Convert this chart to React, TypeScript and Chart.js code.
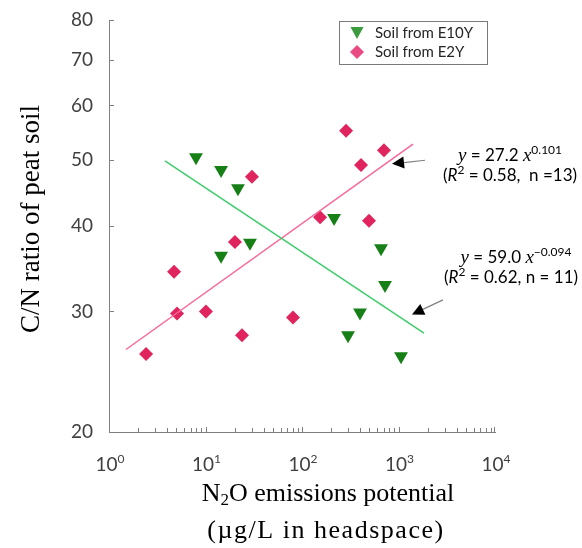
import React, { useEffect, useRef } from 'react';
import { Chart, registerables } from 'chart.js';

Chart.register(...registerables);

// ---- Data ----
const e10yX = [7.97, 14.5, 21.7, 28.9, 14.5, 215, 659, 725, 399, 300, 1062];
const e10yY = [50.4, 48.3, 45.4, 37.8, 36.2, 41.1, 37.1, 32.8, 29.9, 27.7, 25.8];
const e2yX = [2.42, 4.72, 5.07, 10.1, 20.2, 23.9, 30.3, 80.7, 154, 286, 409, 495, 707];
const e2yY = [26.0, 34.3, 29.8, 30.0, 37.9, 27.7, 47.2, 29.4, 41.2, 55.1, 49.1, 40.7, 51.6];
const fitE2YX = [1.5, 1413];
const fitE2YY = [26.4, 52.7];
const fitE10YX = [3.8, 1837];
const fitE10YY = [49.8, 27.9];
const xTicks = [1, 10, 100, 1000, 10000];
const xTickExp = ['0', '1', '2', '3', '4'];
const yTicks = [20, 30, 40, 50, 60, 70, 80];
const seriesNames = ['Soil from E10Y', 'Soil from E2Y'];
// arrows in data coordinates: [tailX, tailY, tipX, tipY]
const arrowE2Y = [1883, 49.9, 857, 49.3];
const arrowE10Y = [2891, 31.2, 1380, 29.7];

const SANS = 'Lato, "Open Sans", sans-serif';
const SERIF = '"Liberation Serif", "DejaVu Serif", serif';

const toPts = (xs: number[], ys: number[]) => xs.map((v, i) => ({ x: v, y: ys[i] }));

type Part = { t: string; font: string; dy?: number };
function drawRich(ctx: CanvasRenderingContext2D, parts: Part[], cx: number, baseline: number, color = '#000') {
  let total = 0;
  const widths = parts.map((p) => {
    ctx.font = p.font;
    const w = ctx.measureText(p.t).width;
    total += w;
    return w;
  });
  let xPos = cx - total / 2;
  ctx.fillStyle = color;
  ctx.textAlign = 'left';
  ctx.textBaseline = 'alphabetic';
  parts.forEach((p, i) => {
    ctx.font = p.font;
    ctx.fillText(p.t, xPos, baseline + (p.dy || 0));
    xPos += widths[i];
  });
}

function drawArrow(ctx: CanvasRenderingContext2D, x1: number, y1: number, x2: number, y2: number) {
  const ang = Math.atan2(y2 - y1, x2 - x1);
  const headLen = 12;
  const headW = 6;
  const bx = x2 - Math.cos(ang) * headLen;
  const by = y2 - Math.sin(ang) * headLen;
  ctx.strokeStyle = '#808080';
  ctx.lineWidth = 1.2;
  ctx.beginPath();
  ctx.moveTo(x1, y1);
  ctx.lineTo(bx, by);
  ctx.stroke();
  ctx.fillStyle = '#000';
  ctx.beginPath();
  ctx.moveTo(x2, y2);
  ctx.lineTo(bx + Math.sin(ang) * headW, by - Math.cos(ang) * headW);
  ctx.lineTo(bx - Math.sin(ang) * headW, by + Math.cos(ang) * headW);
  ctx.closePath();
  ctx.fill();
}

function drawSpaced(ctx: CanvasRenderingContext2D, text: string, cx: number, baseline: number, targetW: number) {
  const c: any = ctx;
  c.letterSpacing = '0px';
  const w0 = ctx.measureText(text).width;
  const gaps = Math.max(1, text.length - 1);
  const ls = Math.max(0, (targetW - w0) / gaps);
  c.letterSpacing = ls.toFixed(2) + 'px';
  const w1 = ctx.measureText(text).width;
  ctx.textAlign = 'left';
  ctx.textBaseline = 'alphabetic';
  ctx.fillText(text, cx - w1 / 2, baseline);
  c.letterSpacing = '0px';
}

const overlay = {
  id: 'overlay',
  afterDraw(chart: any) {
    const { ctx, chartArea: ca, scales } = chart;
    const xs = scales.x;
    const ys = scales.y;
    ctx.save();

    // tick marks (inside)
    ctx.strokeStyle = '#7f7f7f';
    ctx.lineWidth = 1;
    ctx.beginPath();
    for (let d = 0; d < 4; d++) {
      for (let m = 1; m <= 9; m++) {
        const v = m * Math.pow(10, d);
        const px = Math.round(xs.getPixelForValue(v)) + 0.5;
        const len = m === 1 ? 5 : 4;
        ctx.moveTo(px, ca.bottom);
        ctx.lineTo(px, ca.bottom - len);
      }
    }
    const pxEnd = Math.round(xs.getPixelForValue(10000)) - 0.5;
    ctx.moveTo(pxEnd, ca.bottom);
    ctx.lineTo(pxEnd, ca.bottom - 5);
    yTicks.forEach((v) => {
      const py = Math.round(ys.getPixelForValue(v)) + 0.5;
      ctx.moveTo(ca.left, py);
      ctx.lineTo(ca.left + 5, py);
    });
    ctx.stroke();

    // x tick labels with superscripts
    xTicks.forEach((v, i) => {
      const px = xs.getPixelForValue(v);
      drawRich(
        ctx,
        [
          { t: '10', font: `19px ${SANS}` },
          { t: xTickExp[i], font: `12px ${SANS}`, dy: -8 },
        ],
        px + 1,
        471,
        '#404040'
      );
    });

    // axis titles
    ctx.save();
    ctx.translate(39, 219);
    ctx.rotate(-Math.PI / 2);
    ctx.font = `27px ${SERIF}`;
    ctx.fillStyle = '#000';
    ctx.textAlign = 'center';
    ctx.textBaseline = 'alphabetic';
    ctx.fillText('C/N ratio of peat soil', 0, 0);
    ctx.restore();

    drawRich(
      ctx,
      [
        { t: 'N', font: `26px ${SERIF}` },
        { t: '2', font: `17px ${SERIF}`, dy: 4 },
        { t: 'O emissions potential', font: `26px ${SERIF}` },
      ],
      328,
      501
    );
    ctx.font = `26px ${SERIF}`;
    ctx.fillStyle = '#000';
    drawSpaced(ctx, '(\u00b5g/L in headspace)', 326, 538, 236);

    // legend
    ctx.strokeStyle = '#7a7a7a';
    ctx.lineWidth = 1;
    ctx.strokeRect(339.5, 21.5, 148, 43);
    // triangle
    ctx.fillStyle = '#3c9b3c';
    ctx.beginPath();
    ctx.moveTo(350.5, 27);
    ctx.lineTo(363.5, 27);
    ctx.lineTo(357, 39);
    ctx.closePath();
    ctx.fill();
    // diamond
    ctx.fillStyle = '#ea4a82';
    ctx.beginPath();
    ctx.moveTo(357, 45);
    ctx.lineTo(364, 52);
    ctx.lineTo(357, 59);
    ctx.lineTo(350, 52);
    ctx.closePath();
    ctx.fill();
    ctx.font = `15px ${SANS}`;
    ctx.fillStyle = '#262626';
    ctx.textAlign = 'left';
    ctx.textBaseline = 'middle';
    ctx.fillText(seriesNames[0], 375, 33);
    ctx.fillText(seriesNames[1], 375, 52);

    // annotations
    const it = `italic 19px ${SERIF}`;
    const nf = `17px ${SANS}`;
    const sup = `12px ${SANS}`;
    const itR = `italic 17px ${SANS}`;
    drawRich(ctx, [
      { t: 'y', font: it },
      { t: ' = 27.2 ', font: nf },
      { t: 'x', font: it },
      { t: '0.101', font: sup, dy: -7 },
    ], 510, 161);
    drawRich(ctx, [
      { t: '(', font: nf },
      { t: 'R', font: itR },
      { t: '2', font: sup, dy: -7 },
      { t: ' = 0.58,  n =13)', font: nf },
    ], 510, 181);
    drawRich(ctx, [
      { t: 'y', font: it },
      { t: ' = 59.0 ', font: nf },
      { t: 'x', font: it },
      { t: '\u22120.094', font: sup, dy: -7 },
    ], 516, 263);
    drawRich(ctx, [
      { t: '(', font: nf },
      { t: 'R', font: itR },
      { t: '2', font: sup, dy: -7 },
      { t: ' = 0.62, n = 11)', font: nf },
    ], 511, 283);

    const a = (arr: number[]) =>
      drawArrow(ctx, xs.getPixelForValue(arr[0]), ys.getPixelForValue(arr[1]), xs.getPixelForValue(arr[2]), ys.getPixelForValue(arr[3]));
    a(arrowE2Y);
    a(arrowE10Y);

    ctx.restore();
  },
};

export default function App() {
  const ref = useRef<HTMLCanvasElement | null>(null);
  useEffect(() => {
    if (!ref.current) return;
    const chart = new Chart(ref.current, {
      type: 'scatter',
      data: {
        datasets: [
          {
            label: 'Fit E10Y',
            type: 'line',
            data: toPts(fitE10YX, fitE10YY),
            borderColor: '#3ccd6a',
            borderWidth: 1.5,
            pointRadius: 0,
            fill: false,
          } as any,
          {
            label: 'Fit E2Y',
            type: 'line',
            data: toPts(fitE2YX, fitE2YY),
            borderColor: '#f8679b',
            borderWidth: 1.5,
            pointRadius: 0,
            fill: false,
          } as any,
          {
            label: seriesNames[0],
            data: toPts(e10yX, e10yY),
            pointStyle: 'triangle',
            rotation: 180,
            pointRadius: 8,
            backgroundColor: '#167f16',
            borderWidth: 0,
          } as any,
          {
            label: seriesNames[1],
            data: toPts(e2yX, e2yY),
            pointStyle: 'rectRot',
            pointRadius: 7,
            backgroundColor: '#e0245e',
            borderWidth: 0,
          } as any,
        ],
      },
      options: {
        animation: false,
        responsive: false,
        maintainAspectRatio: false,
        devicePixelRatio: 1,
        layout: { padding: { top: 20, right: 87, left: 0, bottom: 0 } },
        plugins: { legend: { display: false }, tooltip: { enabled: false } },
        scales: {
          x: {
            type: 'logarithmic',
            min: 1,
            max: 10000,
            grid: { display: false },
            border: { display: true, color: '#7f7f7f', width: 1 },
            ticks: { display: false },
            afterBuildTicks: (s: any) => {
              s.ticks = xTicks.map((v) => ({ value: v }));
            },
            afterFit: (s: any) => {
              s.height = 116;
            },
          },
          y: {
            type: 'logarithmic',
            min: 20,
            max: 80,
            grid: { display: false },
            border: { display: true, color: '#7f7f7f', width: 1 },
            ticks: {
              padding: 8,
              color: '#404040',
              font: { family: SANS, size: 19 },
              callback: (v: any) => String(v),
            },
            afterBuildTicks: (s: any) => {
              s.ticks = yTicks.map((v) => ({ value: v }));
            },
            afterFit: (s: any) => {
              s.width = 109;
            },
          },
        },
      } as any,
      plugins: [overlay],
    });
    return () => chart.destroy();
  }, []);
  return (
    <div style={{ position: 'fixed', left: 0, top: 0, width: 582, height: 548, background: '#fff' }}>
      <canvas ref={ref} width={582} height={548} />
    </div>
  );
}
